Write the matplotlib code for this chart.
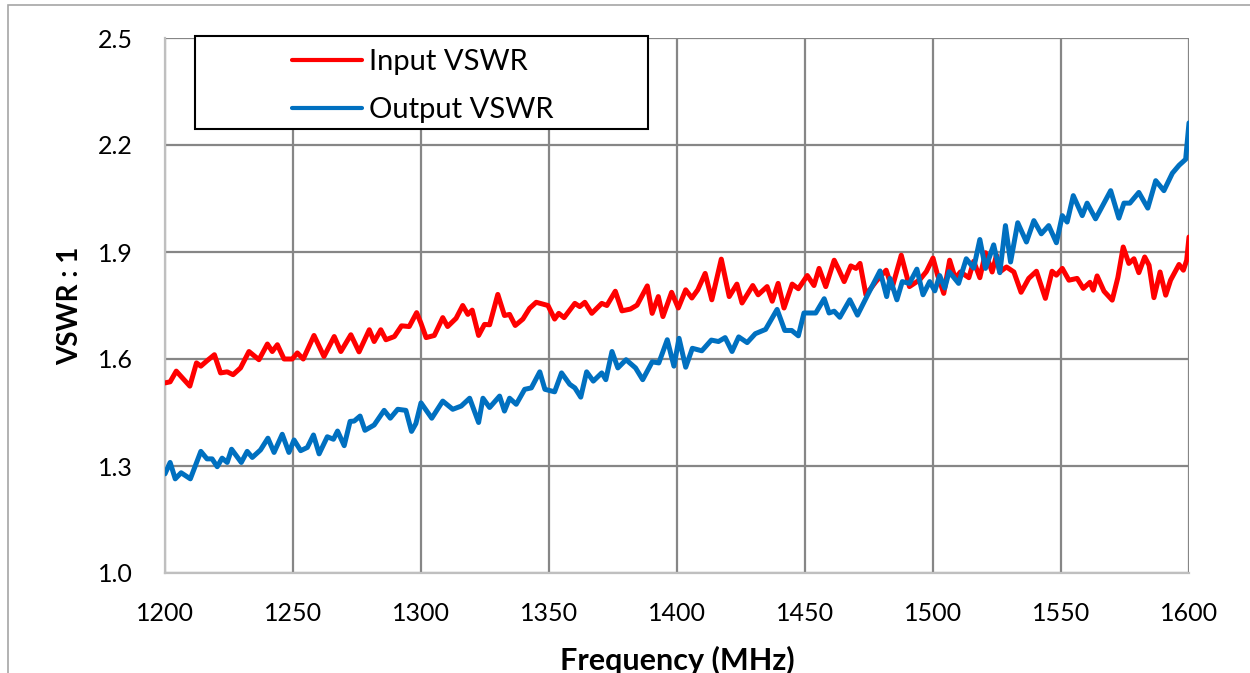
import matplotlib
matplotlib.use("Agg")
import matplotlib.pyplot as plt
from matplotlib.patches import Rectangle

plt.rcParams['font.family'] = ['Lato', 'DejaVu Sans']

input_freq = [1200, 1202, 1204.4, 1209.7, 1212.3, 1214, 1216.4, 1219.3, 1221.7, 1224.3, 1226.6, 1229.5,
              1232.8, 1236.7, 1240, 1241.9, 1243.9, 1246.5, 1249.7, 1251.7, 1254, 1258.2, 1262.1, 1266.1,
              1268.7, 1272.6, 1275.8, 1279.8, 1281.7, 1284.3, 1286.3, 1289.6, 1292.4, 1295.4, 1298.3, 1300,
              1302, 1305.2, 1308.5, 1310.4, 1313.7, 1316.3, 1318.3, 1320, 1322.5, 1324.8, 1326.8, 1330,
              1332.6, 1334.6, 1336.8, 1339.8, 1342.4, 1345, 1349.6, 1352.2, 1353.8, 1355.9, 1360.1, 1362,
              1364, 1366.7, 1370.6, 1372.6, 1375.9, 1378.5, 1381.8, 1384.4, 1388.4, 1390.3, 1392.7, 1394.5,
              1397.9, 1400.5, 1403.4, 1405.8, 1408.1, 1411, 1413.6, 1417.3, 1420.4, 1423.4, 1425.4, 1429.6,
              1431.7, 1435.2, 1437.2, 1439.5, 1441.8, 1445, 1447.4, 1450.9, 1453.5, 1455.5, 1458.1, 1461.4,
              1463.1, 1465.3, 1467.9, 1469.9, 1471.5, 1473.8, 1477.7, 1481.7, 1484, 1487.6, 1490.8, 1494.8,
              1497.4, 1500, 1501.8, 1504.2, 1506.5, 1508.7, 1510.7, 1514, 1515.9, 1518.3, 1520.5, 1523.1,
              1524.8, 1526.1, 1528.7, 1531.6, 1534.4, 1537.4, 1540.4, 1543.9, 1546.5, 1548.2, 1550.5, 1553.1,
              1556.3, 1558.7, 1561.3, 1562.6, 1564.1, 1566.8, 1570, 1572.2, 1574.3, 1576.5, 1578.5, 1580.4,
              1582.7, 1584.4, 1586.3, 1588.7, 1590.9, 1592.8, 1596.1, 1597.8, 1599.1, 1600]
input_vswr = [1.533, 1.536, 1.566, 1.524, 1.589, 1.58, 1.595, 1.612, 1.561, 1.564, 1.556, 1.575,
              1.621, 1.598, 1.642, 1.621, 1.64, 1.60, 1.60, 1.617, 1.60, 1.666, 1.607, 1.663,
              1.621, 1.668, 1.62, 1.682, 1.649, 1.682, 1.654, 1.663, 1.693, 1.691, 1.73, 1.70,
              1.66, 1.666, 1.716, 1.691, 1.714, 1.75, 1.725, 1.737, 1.666, 1.697, 1.696, 1.781,
              1.722, 1.725, 1.694, 1.712, 1.742, 1.759, 1.75, 1.712, 1.728, 1.716, 1.756, 1.747,
              1.759, 1.728, 1.756, 1.75, 1.79, 1.735, 1.74, 1.751, 1.805, 1.728, 1.775, 1.719,
              1.787, 1.743, 1.794, 1.771, 1.794, 1.84, 1.766, 1.88, 1.775, 1.81, 1.757, 1.806,
              1.78, 1.803, 1.762, 1.812, 1.743, 1.81, 1.797, 1.834, 1.806, 1.854, 1.803, 1.877,
              1.852, 1.817, 1.861, 1.854, 1.868, 1.78, 1.817, 1.849, 1.799, 1.891, 1.803, 1.822,
              1.845, 1.883, 1.835, 1.784, 1.877, 1.826, 1.844, 1.828, 1.874, 1.828, 1.898, 1.844,
              1.891, 1.844, 1.858, 1.844, 1.787, 1.826, 1.846, 1.77, 1.846, 1.835, 1.854, 1.821,
              1.826, 1.798, 1.815, 1.793, 1.833, 1.79, 1.765, 1.828, 1.914, 1.868, 1.881, 1.842,
              1.886, 1.863, 1.772, 1.844, 1.779, 1.821, 1.865, 1.849, 1.877, 1.942]

output_freq = [1200, 1202, 1204, 1206.3, 1209.9, 1214, 1216.4, 1218.4, 1220.4, 1222.3, 1224.3, 1226,
               1229.8, 1232.1, 1234.1, 1237.3, 1240.2, 1242.6, 1245.8, 1248.4, 1250.4, 1253, 1255.6, 1258,
               1260.2, 1263.4, 1265.8, 1267.4, 1270, 1272.3, 1273.9, 1276.2, 1278.1, 1281.7, 1285.6, 1288,
               1290.9, 1294.1, 1296.3, 1298, 1300, 1304.2, 1308.5, 1312.4, 1315.7, 1319, 1322.5, 1324.2,
               1326.8, 1330.7, 1332.6, 1334.6, 1337.2, 1340.5, 1343.1, 1346.4, 1348.4, 1352.2, 1354.9, 1358.1,
               1360.1, 1362.4, 1364.7, 1367.3, 1370.6, 1372.2, 1374.6, 1376.9, 1380.1, 1383.8, 1386.6, 1390.3,
               1392.9, 1396.2, 1398.8, 1400.8, 1403.4, 1406, 1409.7, 1413.4, 1416.2, 1418.8, 1421.5, 1424.1,
               1427.4, 1430.6, 1434.6, 1439.1, 1442.1, 1444.8, 1447.4, 1449.6, 1454.2, 1457.5, 1459.4, 1461.4,
               1463.6, 1467.5, 1470.5, 1474.5, 1479.3, 1481.9, 1483.2, 1485.9, 1488, 1490.8, 1493.7, 1496.1,
               1498.7, 1500.7, 1502.6, 1504.6, 1506.3, 1510, 1513, 1515.9, 1518.3, 1520.5, 1523.7, 1526.1,
               1528.3, 1530.3, 1533.1, 1536.5, 1539.4, 1542.3, 1545.2, 1548.2, 1550.5, 1552.4, 1554.8, 1558.3,
               1560.2, 1563.5, 1569.4, 1572.6, 1574.6, 1576.9, 1580.4, 1583.9, 1587, 1590.2, 1593.5, 1596.1,
               1598.7, 1600]
output_vswr = [1.278, 1.31, 1.264, 1.281, 1.264, 1.341, 1.32, 1.32, 1.298, 1.322, 1.31, 1.347,
               1.31, 1.341, 1.324, 1.345, 1.378, 1.338, 1.389, 1.338, 1.373, 1.343, 1.352, 1.387,
               1.334, 1.382, 1.375, 1.398, 1.357, 1.425, 1.426, 1.44, 1.40, 1.415, 1.456, 1.434,
               1.459, 1.456, 1.397, 1.419, 1.477, 1.434, 1.482, 1.459, 1.468, 1.49, 1.422, 1.49,
               1.464, 1.496, 1.454, 1.49, 1.473, 1.515, 1.519, 1.564, 1.515, 1.508, 1.561, 1.529,
               1.519, 1.493, 1.564, 1.538, 1.561, 1.542, 1.621, 1.575, 1.598, 1.575, 1.542, 1.592,
               1.589, 1.654, 1.58, 1.658, 1.577, 1.63, 1.623, 1.653, 1.649, 1.66, 1.621, 1.662,
               1.646, 1.671, 1.683, 1.739, 1.68, 1.68, 1.665, 1.729, 1.729, 1.769, 1.729, 1.734,
               1.717, 1.766, 1.723, 1.78, 1.847, 1.775, 1.826, 1.766, 1.817, 1.812, 1.852, 1.78,
               1.817, 1.791, 1.834, 1.799, 1.845, 1.812, 1.881, 1.855, 1.935, 1.854, 1.92, 1.842,
               1.974, 1.872, 1.982, 1.928, 1.988, 1.951, 1.974, 1.926, 2.002, 1.984, 2.058, 2.002,
               2.037, 1.993, 2.072, 1.995, 2.037, 2.037, 2.067, 2.023, 2.10, 2.072, 2.121, 2.143,
               2.16, 2.262]

x_ticks = [1200, 1250, 1300, 1350, 1400, 1450, 1500, 1550, 1600]
y_ticks = [1.0, 1.3, 1.6, 1.9, 2.2, 2.5]
series_labels = ['Input VSWR', 'Output VSWR']
x_label = 'Frequency (MHz)'
y_label = 'VSWR : 1'

W, H = 1250, 673
fig = plt.figure(figsize=(W / 100, H / 100), dpi=100)
ax = fig.add_axes([165 / W, (H - 573) / H, (1189 - 165) / W, (573 - 38) / H])

# outer chart border
fig.patches.append(Rectangle((8 / W, -0.1), 1.2, (H - 5) / H + 0.1, transform=fig.transFigure,
                             fill=False, edgecolor='#A6A6A6', linewidth=1.2, zorder=0))

ax.plot(input_freq, input_vswr, color='#FF0000', linewidth=3.6, label=series_labels[0],
        solid_joinstyle='round', solid_capstyle='round', zorder=3)
ax.plot(output_freq, output_vswr, color='#0070C0', linewidth=3.6, label=series_labels[1],
        solid_joinstyle='round', solid_capstyle='round', zorder=3)

ax.set_xlim(1200, 1600)
ax.set_ylim(1.0, 2.5)
ax.set_xticks(x_ticks)
ax.set_yticks(y_ticks)
ax.set_yticklabels([f'{v:.1f}' for v in y_ticks])
ax.grid(True, color='#868686', linewidth=1.6, zorder=1)
ax.set_axisbelow(True)
for s in ['top', 'right']:
    ax.spines[s].set_visible(False)
for s in ['left', 'bottom']:
    ax.spines[s].set_color('#BFBFBF')
    ax.spines[s].set_linewidth(1.6)
    ax.spines[s].set_zorder(2)
ax.tick_params(length=0, labelsize=18)
ax.tick_params(axis='x', pad=21)
ax.tick_params(axis='y', pad=23)

ax.set_xlabel(x_label, fontsize=22, fontweight='bold', labelpad=15)
ax.set_ylabel(y_label, fontsize=20, fontweight='bold', labelpad=11)

# legend frame
ax.add_patch(Rectangle(((195 - 165) / 1024, (573 - 129) / 535), (648 - 195) / 1024, (129 - 36) / 535,
                       transform=ax.transAxes, facecolor='white', edgecolor='black', linewidth=1.5,
                       zorder=5, clip_on=False))
leg = ax.legend(loc='upper left', bbox_to_anchor=((292 - 165) / 1024, (573 - 49) / 535), frameon=False,
                fontsize=21, handlelength=2.4, handletextpad=0.24, labelspacing=0.76,
                borderpad=0, borderaxespad=0)
leg.set_zorder(6)
for h in leg.get_lines():
    h.set_linewidth(3.0)

fig.savefig('out.png', dpi=100)
